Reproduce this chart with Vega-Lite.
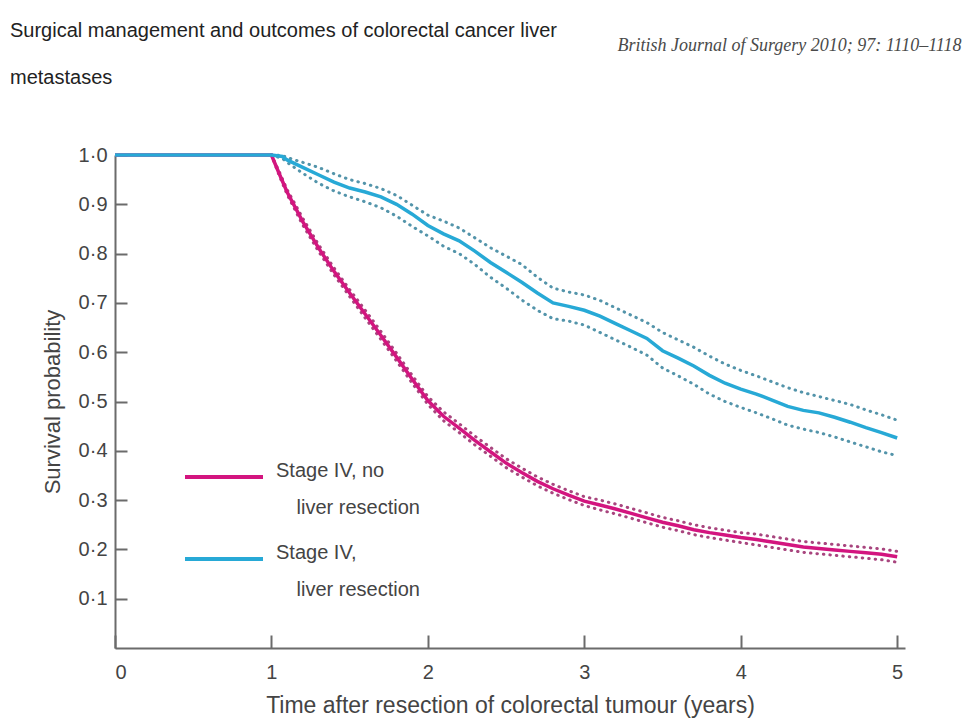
{
  "$schema": "https://vega.github.io/schema/vega-lite/v6.json",
  "width": 790,
  "height": 493,
  "autosize": "none",
  "padding": {"left": 115, "top": 155, "right": 71, "bottom": 77},
  "background": "white",
  "title": {
    "text": ["Surgical management and outcomes of colorectal cancer liver", "metastases"],
    "anchor": "start",
    "frame": "group",
    "dx": -105,
    "dy": 56,
    "font": "Liberation Sans",
    "fontSize": 20,
    "fontWeight": "normal",
    "color": "#222222",
    "lineHeight": 47
  },
  "data": {
    "values": [
      {"g": "Stage IV, no liver resection", "t": 0, "s": 1},
      {"g": "Stage IV, no liver resection", "t": 1.0, "s": 1.0, "hi": 1.0, "lo": 1.0},
      {"g": "Stage IV, no liver resection", "t": 1.05, "s": 0.962, "hi": 0.966, "lo": 0.958},
      {"g": "Stage IV, no liver resection", "t": 1.1, "s": 0.925, "hi": 0.930, "lo": 0.920},
      {"g": "Stage IV, no liver resection", "t": 1.2, "s": 0.865, "hi": 0.872, "lo": 0.858},
      {"g": "Stage IV, no liver resection", "t": 1.3, "s": 0.812, "hi": 0.819, "lo": 0.805},
      {"g": "Stage IV, no liver resection", "t": 1.4, "s": 0.764, "hi": 0.771, "lo": 0.757},
      {"g": "Stage IV, no liver resection", "t": 1.5, "s": 0.720, "hi": 0.727, "lo": 0.713},
      {"g": "Stage IV, no liver resection", "t": 1.6, "s": 0.677, "hi": 0.685, "lo": 0.669},
      {"g": "Stage IV, no liver resection", "t": 1.7, "s": 0.634, "hi": 0.642, "lo": 0.626},
      {"g": "Stage IV, no liver resection", "t": 1.8, "s": 0.590, "hi": 0.598, "lo": 0.582},
      {"g": "Stage IV, no liver resection", "t": 1.9, "s": 0.545, "hi": 0.553, "lo": 0.537},
      {"g": "Stage IV, no liver resection", "t": 2.0, "s": 0.502, "hi": 0.510, "lo": 0.494},
      {"g": "Stage IV, no liver resection", "t": 2.1, "s": 0.470, "hi": 0.479, "lo": 0.461},
      {"g": "Stage IV, no liver resection", "t": 2.2, "s": 0.446, "hi": 0.455, "lo": 0.437},
      {"g": "Stage IV, no liver resection", "t": 2.3, "s": 0.421, "hi": 0.430, "lo": 0.412},
      {"g": "Stage IV, no liver resection", "t": 2.4, "s": 0.398, "hi": 0.407, "lo": 0.389},
      {"g": "Stage IV, no liver resection", "t": 2.5, "s": 0.375, "hi": 0.384, "lo": 0.366},
      {"g": "Stage IV, no liver resection", "t": 2.6, "s": 0.356, "hi": 0.365, "lo": 0.347},
      {"g": "Stage IV, no liver resection", "t": 2.7, "s": 0.338, "hi": 0.347, "lo": 0.329},
      {"g": "Stage IV, no liver resection", "t": 2.8, "s": 0.323, "hi": 0.332, "lo": 0.314},
      {"g": "Stage IV, no liver resection", "t": 2.9, "s": 0.310, "hi": 0.319, "lo": 0.301},
      {"g": "Stage IV, no liver resection", "t": 3.0, "s": 0.298, "hi": 0.307, "lo": 0.289},
      {"g": "Stage IV, no liver resection", "t": 3.1, "s": 0.290, "hi": 0.300, "lo": 0.280},
      {"g": "Stage IV, no liver resection", "t": 3.2, "s": 0.282, "hi": 0.292, "lo": 0.272},
      {"g": "Stage IV, no liver resection", "t": 3.3, "s": 0.273, "hi": 0.283, "lo": 0.263},
      {"g": "Stage IV, no liver resection", "t": 3.4, "s": 0.264, "hi": 0.274, "lo": 0.254},
      {"g": "Stage IV, no liver resection", "t": 3.5, "s": 0.255, "hi": 0.265, "lo": 0.245},
      {"g": "Stage IV, no liver resection", "t": 3.6, "s": 0.248, "hi": 0.258, "lo": 0.238},
      {"g": "Stage IV, no liver resection", "t": 3.7, "s": 0.240, "hi": 0.250, "lo": 0.230},
      {"g": "Stage IV, no liver resection", "t": 3.8, "s": 0.234, "hi": 0.244, "lo": 0.224},
      {"g": "Stage IV, no liver resection", "t": 3.9, "s": 0.229, "hi": 0.239, "lo": 0.219},
      {"g": "Stage IV, no liver resection", "t": 4.0, "s": 0.224, "hi": 0.234, "lo": 0.214},
      {"g": "Stage IV, no liver resection", "t": 4.1, "s": 0.220, "hi": 0.231, "lo": 0.209},
      {"g": "Stage IV, no liver resection", "t": 4.2, "s": 0.215, "hi": 0.226, "lo": 0.204},
      {"g": "Stage IV, no liver resection", "t": 4.3, "s": 0.210, "hi": 0.221, "lo": 0.199},
      {"g": "Stage IV, no liver resection", "t": 4.4, "s": 0.205, "hi": 0.216, "lo": 0.194},
      {"g": "Stage IV, no liver resection", "t": 4.5, "s": 0.202, "hi": 0.213, "lo": 0.191},
      {"g": "Stage IV, no liver resection", "t": 4.6, "s": 0.199, "hi": 0.210, "lo": 0.188},
      {"g": "Stage IV, no liver resection", "t": 4.7, "s": 0.196, "hi": 0.207, "lo": 0.185},
      {"g": "Stage IV, no liver resection", "t": 4.8, "s": 0.193, "hi": 0.204, "lo": 0.182},
      {"g": "Stage IV, no liver resection", "t": 4.9, "s": 0.190, "hi": 0.201, "lo": 0.179},
      {"g": "Stage IV, no liver resection", "t": 5.0, "s": 0.185, "hi": 0.196, "lo": 0.174},
      {"g": "Stage IV, liver resection", "t": 0, "s": 1},
      {"g": "Stage IV, liver resection", "t": 1.0, "s": 1.0, "hi": 1.0, "lo": 1.0},
      {"g": "Stage IV, liver resection", "t": 1.07, "s": 0.997, "hi": 0.999, "lo": 0.993},
      {"g": "Stage IV, liver resection", "t": 1.1, "s": 0.990, "hi": 0.995, "lo": 0.985},
      {"g": "Stage IV, liver resection", "t": 1.2, "s": 0.975, "hi": 0.985, "lo": 0.963},
      {"g": "Stage IV, liver resection", "t": 1.3, "s": 0.960, "hi": 0.975, "lo": 0.943},
      {"g": "Stage IV, liver resection", "t": 1.4, "s": 0.945, "hi": 0.962, "lo": 0.927},
      {"g": "Stage IV, liver resection", "t": 1.5, "s": 0.933, "hi": 0.950, "lo": 0.915},
      {"g": "Stage IV, liver resection", "t": 1.6, "s": 0.925, "hi": 0.942, "lo": 0.905},
      {"g": "Stage IV, liver resection", "t": 1.7, "s": 0.915, "hi": 0.932, "lo": 0.893},
      {"g": "Stage IV, liver resection", "t": 1.8, "s": 0.900, "hi": 0.918, "lo": 0.876},
      {"g": "Stage IV, liver resection", "t": 1.9, "s": 0.880, "hi": 0.898, "lo": 0.855},
      {"g": "Stage IV, liver resection", "t": 2.0, "s": 0.857, "hi": 0.878, "lo": 0.836},
      {"g": "Stage IV, liver resection", "t": 2.1, "s": 0.840, "hi": 0.866, "lo": 0.815},
      {"g": "Stage IV, liver resection", "t": 2.2, "s": 0.826, "hi": 0.852, "lo": 0.800},
      {"g": "Stage IV, liver resection", "t": 2.3, "s": 0.805, "hi": 0.832, "lo": 0.778},
      {"g": "Stage IV, liver resection", "t": 2.4, "s": 0.782, "hi": 0.812, "lo": 0.752},
      {"g": "Stage IV, liver resection", "t": 2.5, "s": 0.762, "hi": 0.795, "lo": 0.730},
      {"g": "Stage IV, liver resection", "t": 2.6, "s": 0.742, "hi": 0.778, "lo": 0.706},
      {"g": "Stage IV, liver resection", "t": 2.7, "s": 0.720, "hi": 0.752, "lo": 0.685},
      {"g": "Stage IV, liver resection", "t": 2.8, "s": 0.700, "hi": 0.730, "lo": 0.668},
      {"g": "Stage IV, liver resection", "t": 2.9, "s": 0.693, "hi": 0.722, "lo": 0.663},
      {"g": "Stage IV, liver resection", "t": 3.0, "s": 0.685, "hi": 0.716, "lo": 0.655},
      {"g": "Stage IV, liver resection", "t": 3.1, "s": 0.673, "hi": 0.705, "lo": 0.640},
      {"g": "Stage IV, liver resection", "t": 3.2, "s": 0.658, "hi": 0.690, "lo": 0.625},
      {"g": "Stage IV, liver resection", "t": 3.3, "s": 0.643, "hi": 0.675, "lo": 0.610},
      {"g": "Stage IV, liver resection", "t": 3.4, "s": 0.628, "hi": 0.660, "lo": 0.594},
      {"g": "Stage IV, liver resection", "t": 3.5, "s": 0.603, "hi": 0.640, "lo": 0.568},
      {"g": "Stage IV, liver resection", "t": 3.6, "s": 0.588, "hi": 0.625, "lo": 0.552},
      {"g": "Stage IV, liver resection", "t": 3.7, "s": 0.572, "hi": 0.610, "lo": 0.535},
      {"g": "Stage IV, liver resection", "t": 3.8, "s": 0.553, "hi": 0.592, "lo": 0.515},
      {"g": "Stage IV, liver resection", "t": 3.9, "s": 0.537, "hi": 0.576, "lo": 0.500},
      {"g": "Stage IV, liver resection", "t": 4.0, "s": 0.525, "hi": 0.563, "lo": 0.488},
      {"g": "Stage IV, liver resection", "t": 4.1, "s": 0.515, "hi": 0.552, "lo": 0.477},
      {"g": "Stage IV, liver resection", "t": 4.2, "s": 0.503, "hi": 0.540, "lo": 0.465},
      {"g": "Stage IV, liver resection", "t": 4.3, "s": 0.490, "hi": 0.528, "lo": 0.452},
      {"g": "Stage IV, liver resection", "t": 4.4, "s": 0.482, "hi": 0.518, "lo": 0.444},
      {"g": "Stage IV, liver resection", "t": 4.5, "s": 0.477, "hi": 0.510, "lo": 0.437},
      {"g": "Stage IV, liver resection", "t": 4.6, "s": 0.468, "hi": 0.502, "lo": 0.428},
      {"g": "Stage IV, liver resection", "t": 4.7, "s": 0.458, "hi": 0.494, "lo": 0.418},
      {"g": "Stage IV, liver resection", "t": 4.8, "s": 0.447, "hi": 0.483, "lo": 0.408},
      {"g": "Stage IV, liver resection", "t": 4.9, "s": 0.437, "hi": 0.473, "lo": 0.398},
      {"g": "Stage IV, liver resection", "t": 5.0, "s": 0.426, "hi": 0.462, "lo": 0.390}
    ]
  },
  "layer": [
    {
      "transform": [
        {"filter": "datum.g == 'Stage IV, no liver resection'"},
        {"fold": ["hi", "lo"], "as": ["k", "v"]}
      ],
      "mark": {"type": "line", "strokeDash": [0.5, 6], "strokeCap": "round", "strokeWidth": 3, "color": "#a8457e"},
      "encoding": {
        "x": {
          "field": "t", "type": "quantitative",
          "scale": {"domain": [0, 5.05], "nice": false, "zero": false},
          "axis": {
            "orient": "top",
            "title": "British Journal of Surgery 2010; 97: 1110–1118",
            "domain": false, "ticks": false, "labels": false, "grid": false,
            "titleX": 846, "titleY": -110,
            "titleAlign": "right", "titleAnchor": null, "titleBaseline": "middle",
            "titleFont": "Liberation Serif", "titleFontStyle": "italic",
            "titleFontSize": 18, "titleFontWeight": "normal", "titleColor": "#4a4a4a"
          }
        },
        "y": {"field": "v", "type": "quantitative", "scale": {"domain": [0, 1], "nice": false}, "axis": null},
        "detail": {"field": "k"}
      }
    },
    {
      "transform": [
        {"filter": "datum.g == 'Stage IV, liver resection'"},
        {"fold": ["hi", "lo"], "as": ["k", "v"]}
      ],
      "mark": {"type": "line", "strokeDash": [0.5, 6], "strokeCap": "round", "strokeWidth": 3, "color": "#5394aa"},
      "encoding": {
        "x": {"field": "t", "type": "quantitative", "scale": {"domain": [0, 5.05], "nice": false, "zero": false}, "axis": null},
        "y": {"field": "v", "type": "quantitative", "scale": {"domain": [0, 1], "nice": false}, "axis": null},
        "detail": {"field": "k"}
      }
    },
    {
      "mark": {"type": "line", "strokeWidth": 3.5},
      "encoding": {
        "x": {
          "field": "t", "type": "quantitative",
          "scale": {"domain": [0, 5.05], "nice": false, "zero": false},
          "axis": {
            "title": "Time after resection of colorectal tumour (years)",
            "values": [0, 1, 2, 3, 4, 5],
            "format": "d",
            "tickSize": -13,
            "labelPadding": 27,
            "titlePadding": 12,
            "titleFontSize": 23
          }
        },
        "y": {
          "field": "s", "type": "quantitative",
          "scale": {"domain": [0, 1], "nice": false},
          "axis": {
            "title": "Survival probability",
            "values": [0.1, 0.2, 0.3, 0.4, 0.5, 0.6, 0.7, 0.8, 0.9, 1.0],
            "labelExpr": "replace(format(datum.value, '.1f'), '.', '·')",
            "tickSize": -12,
            "labelPadding": 20,
            "titlePadding": 14,
            "titleFontSize": 22
          }
        },
        "color": {
          "field": "g", "type": "nominal",
          "scale": {"domain": ["Stage IV, no liver resection", "Stage IV, liver resection"], "range": ["#d3157f", "#27a9d6"]},
          "legend": {
            "orient": "none",
            "legendX": 68,
            "legendY": 281,
            "title": null,
            "padding": 0,
            "symbolType": "stroke",
            "symbolSize": 6084,
            "symbolStrokeWidth": 4,
            "labelOffset": 11,
            "labelBaseline": "alphabetic",
            "labelFont": "Liberation Sans",
            "labelFontSize": 20,
            "labelColor": "#444444",
            "labelLimit": 400,
            "rowPadding": -8,
            "labelExpr": "datum.label == 'Stage IV, no liver resection' ? ['Stage IV, no', '\u2800 liver resection'] : ['Stage IV,', '\u2800 liver resection']"
          }
        }
      }
    }
  ],
  "resolve": {"axis": {"x": "independent", "y": "independent"}},
  "config": {
    "view": {"stroke": null},
    "style": {"guide-label": {"lineHeight": 37}},
    "axis": {
      "grid": false,
      "domainColor": "#6b6b6b",
      "domainWidth": 2,
      "tickColor": "#6b6b6b",
      "tickWidth": 2,
      "labelColor": "#444444",
      "labelFont": "Liberation Sans",
      "labelFontSize": 20,
      "titleColor": "#444444",
      "titleFont": "Liberation Sans",
      "titleFontSize": 20,
      "titleFontWeight": "normal"
    }
  }
}
